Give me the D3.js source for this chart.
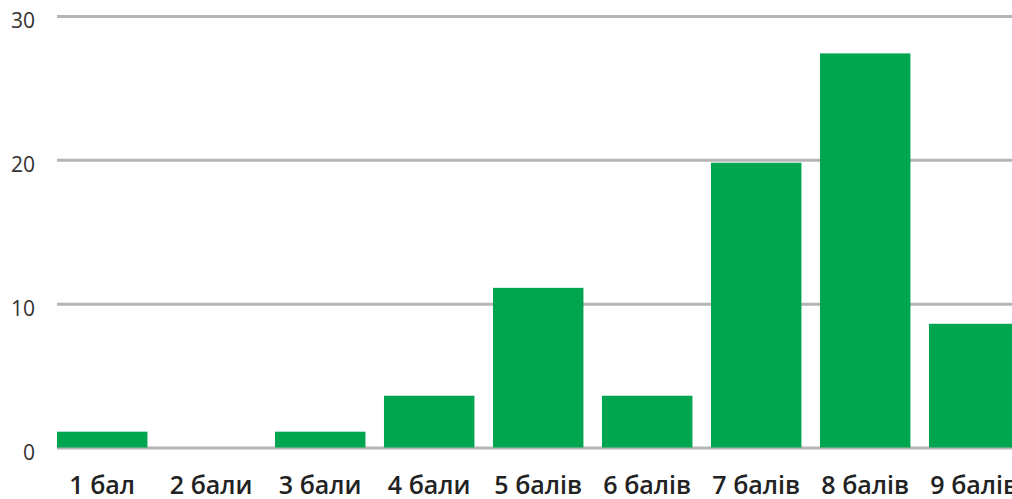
<!DOCTYPE html>
<html>
<head>
<meta charset="utf-8">
<script src="https://cdn.jsdelivr.net/npm/d3@7"></script>
<style>
  html, body { margin: 0; padding: 0; background: #fff; overflow: hidden; }
  text { font-family: "Open Sans", "Noto Sans", sans-serif; fill: #333; }
</style>
</head>
<body>
<svg id="svg" width="1012" height="499"></svg>
<script>
"use strict";

const categories = ["1 бал", "2 бали", "3 бали", "4 бали", "5 балів", "6 балів", "7 балів", "8 балів", "9 балів"];
const values = [1.1, 0, 1.1, 3.6, 11.1, 3.6, 19.8, 27.4, 8.6];
const yTicks = [0, 10, 20, 30];

const svg = d3.select("#svg"),
	width = +svg.attr("width"),
	height = +svg.attr("height");

const plotLeft = 57, plotTop = 16, plotBottom = 447.5;

let xScale = d3.scaleBand()
	.domain(categories)
	.range([47.7, 47.7 + 109 * categories.length])
	.paddingInner(0.17)
	.paddingOuter(0.085);

let yScale = d3.scaleLinear()
	.domain([0, 30])
	.range([plotBottom, plotTop]);

// grid lines + y labels
let yAxis = d3.axisLeft(yScale)
	.tickValues(yTicks)
	.tickSize(plotLeft - width)
	.tickPadding(22)
	.tickFormat(d3.format("d"));

let gY = svg.append("g")
	.attr("class", "axis axis-y")
	.attr("transform", "translate(" + plotLeft + ",0)")
	.call(yAxis);

gY.select(".domain").remove();
gY.selectAll(".tick line")
	.attr("stroke", "#b5b5b5")
	.attr("stroke-width", 3);
gY.selectAll(".tick text")
	.attr("x", -22)
	.attr("dy", "0.55em")
	.style("font-size", "21px")
	.style("fill", "#333");

// bars
svg.selectAll("rect.bar")
	.data(values)
	.enter()
	.append("rect")
	.attr("class", "bar")
	.attr("x", (d, i) => xScale(categories[i]))
	.attr("width", xScale.bandwidth())
	.attr("y", d => yScale(d))
	.attr("height", d => yScale(0) - yScale(d))
	.attr("fill", "#00a54f");

// x labels
let xAxis = d3.axisBottom(xScale)
	.tickSize(0)
	.tickPadding(0);

let gX = svg.append("g")
	.attr("class", "axis axis-x")
	.attr("transform", "translate(0,494)")
	.call(xAxis);

gX.select(".domain").remove();
gX.selectAll(".tick text")
	.attr("y", 0)
	.attr("dy", 0)
	.style("font-size", "25px")
	.style("font-weight", 600)
	.style("fill", "#222");
</script>
</body>
</html>
